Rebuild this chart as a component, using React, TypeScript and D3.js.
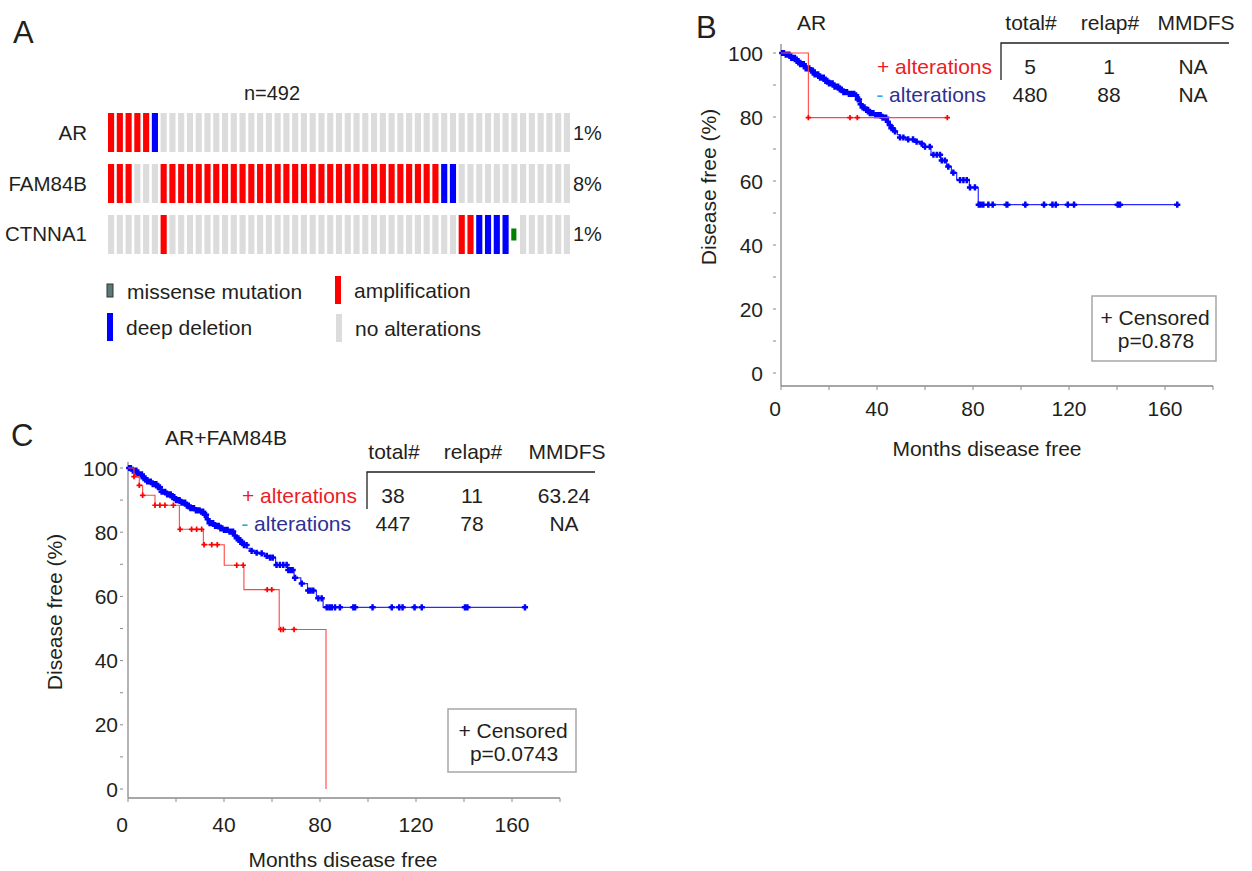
import React, { useEffect, useRef } from 'react';
import * as d3 from 'd3';

const FONT = 'Arial, "Liberation Sans", Helvetica, sans-serif';
const INK = '#231f20';

// ---- panel A: oncoprint ----
const genes = ['AR', 'FAM84B', 'CTNNA1'];
const genePct = ['1%', '8%', '1%'];
// A = amplification, D = deep deletion, M = missense mutation, N = no alteration
const arRow = 'AAAAAD' + 'NNNNNNNNNN' + 'NNNNNNNNNN' + 'NNNNNNNNNN' + 'NNNNNNNNNN' + 'NNNNNNN';
const fam84bRow = 'AAANNN' + 'AAAAAAAAAA' + 'AAAAAAAAAA' + 'AAAAAAAAAA' + 'AA' + 'DD' + 'NNNNNNNNNN' + 'NNN';
const ctnna1Row = 'NNNNNNA' + 'NNNNNNNNNN' + 'NNNNNNNNNN' + 'NNNNNNNNNN' + 'NNN' + 'AADDDDM' + 'NNNNNN';
const oncoRows = [arRow, fam84bRow, ctnna1Row];
const altColors: Record<string, string> = { A: '#ff0000', D: '#0000ff', M: '#008000', N: '#dcdcdc' };
const legendLabels = ['missense mutation', 'amplification', 'deep deletion', 'no alterations'];
const legendCodes = ['M', 'A', 'D', 'N'];

// ---- panel B: AR ----
const bPlusSteps = [[0, 100], [11.4, 79.8], [69.3, 79.8]];
const bPlusCensor = [11.4, 28.75, 31.8, 69.3];
const bMinusSteps = [
  [0, 100], [2, 99.5], [4, 98.5], [6, 97.5], [8, 96.5], [10, 95.2], [12, 94.5], [14, 93.3],
  [16, 92.3], [18, 91.3], [20, 90.5], [22, 89.5], [24, 88.6], [26, 87.8], [28, 87.2], [31, 86.8],
  [32, 85.5], [33, 84], [34, 83], [35, 82.2], [37, 81.2], [39, 80.6], [42, 79.8], [44, 78.5],
  [45, 77.5], [46, 76.5], [47, 75.5], [48.5, 74.5], [49.5, 73.6], [53, 73], [56, 72.3], [58, 71.7],
  [60, 70.7], [62.5, 68.2], [66.5, 66.4], [69, 64.5], [71, 62.6], [73.2, 60.3], [78.5, 58],
  [82.2, 52.6], [165.1, 52.6],
];
const bMinusCensor = [
  0.5, 1.2, 2, 2.8, 3.5, 4.3, 5, 5.8, 6.5, 7.3, 8, 8.8, 9.5, 10.3, 11, 11.8, 12.5, 13.3, 14, 14.8,
  15.5, 16.3, 17, 17.8, 18.5, 19.3, 20, 20.8, 21.5, 22.3, 23, 23.8, 24.5, 25.3, 26, 26.8, 27.5,
  28.3, 29, 29.8, 30.5, 31.3, 32, 32.5, 33.2, 34, 34.8, 35.5, 36.3, 37, 37.8, 38.5, 39.3, 40,
  40.8, 41.5, 42.3, 43, 43.8, 44.5, 45.3, 46, 46.5,
  47.5, 49.6, 51, 53, 55, 56.5, 58.6, 60, 62, 63.5, 64.9, 66.25, 67, 68.3, 69.7, 71.8, 74.6, 76,
  77.4, 78.75, 80.8,
  82.4, 83.2, 84.3, 86.4, 88.2, 94.0, 94.3, 101.8, 109.6, 113.1, 114.5, 119.5, 122.1, 140.3,
  141.25, 165.1,
];
const bTable = [['5', '1', 'NA'], ['480', '88', 'NA']];
const bPValue = 'p=0.878';

// ---- panel C: AR+FAM84B ----
const cPlusSteps = [
  [0, 100], [2.5, 97.3], [4.7, 94.6], [6.1, 91.5], [11.25, 88.4], [21.4, 80.9], [31.4, 76.1],
  [40.1, 69.7], [48.3, 62.1], [63, 49.7], [82.5, 0],
];
const cPlusCensor = [
  2.5, 4.7, 6.1, 11.25, 13.3, 15.4, 18.9, 21.7, 26.5, 28.6, 30.7, 31.7, 34.9, 37.2, 45.3, 48,
  58, 59.9, 63.6, 64.7, 69.2,
];
const cMinusSteps = [
  [0, 100], [2, 99.2], [4, 98], [6, 96.8], [8, 95.8], [10, 95], [12, 94], [14, 92.6], [16, 91.8],
  [18, 90.9], [20, 90], [22, 89.2], [24, 88.3], [26, 87.5], [28, 86.8], [30, 86.4], [32, 85.4],
  [33, 84], [34, 82.8], [36, 82], [38, 81.2], [40, 80.7], [42, 80.2], [44, 79], [45, 78.1],
  [46.5, 77], [48, 76], [49.5, 75], [50.8, 74.2], [53, 73.6], [55, 73.4], [57, 72.6], [59, 72.1],
  [61.5, 69.8], [66.5, 68.2], [69.2, 65.8], [72, 64], [74.8, 61.8], [78.5, 59.4], [81.3, 56.6],
  [165.4, 56.6],
];
const cMinusCensor = [
  0.5, 1.2, 2, 2.8, 3.5, 4.3, 5, 5.8, 6.5, 7.3, 8, 8.8, 9.5, 10.3, 11, 11.8, 12.5, 13.3, 14, 14.8,
  15.5, 16.3, 17, 17.8, 18.5, 19.3, 20, 20.8, 21.5, 22.3, 23, 23.8, 24.5, 25.3, 26, 26.8, 27.5,
  28.3, 29, 29.8, 30.5, 31.3, 32, 32.5, 33.2, 34, 34.8, 35.5, 36.3, 37, 37.8, 38.5, 39.3, 40,
  40.8, 41.5, 42.3, 43, 43.8, 44.5, 45.3, 46, 46.8, 47.5, 48.3,
  49.4, 51.5, 53.6, 55.7, 57.8, 59.2, 60.3, 61.9, 63.3, 64.7, 66.1, 66.8, 67.8, 68.6, 69.6, 72.4,
  75.1, 76.1, 77.2, 79.3, 80.7,
  82.8, 83.9, 84.9, 86.25, 88.3, 93.9, 94.6, 101.9, 109.9, 113, 114.4, 119.4, 122.4, 140.4,
  141.4, 165.4,
];
const cTable = [['38', '11', '63.24'], ['447', '78', 'NA']];
const cPValue = 'p=0.0743';

const tableHeads = ['total#', 'relap#', 'MMDFS'];
const yTicks = [0, 20, 40, 60, 80, 100];
const xTicks = [0, 40, 80, 120, 160];

type KM = {
  x0: number; y0: number; yTop: number; axisY: number; yAxisTop: number;
  title: string; titleX: number; titleY: number;
  plusSteps: number[][]; plusCensor: number[]; minusSteps: number[][]; minusCensor: number[];
  table: string[][]; tableX: number; tableY: number; colX: number[]; rowLabelX: number;
  pValue: string; box: [number, number, number, number];
  yLabelX: number; xLabelY: number; yTitleX: number; yTitleY: number; xTitleX: number; xTitleY: number;
};

function drawKM(svg: d3.Selection<SVGSVGElement, unknown, null, undefined>, k: KM) {
  const g = svg.append('g').attr('font-family', FONT).attr('fill', INK);
  const x = d3.scaleLinear().domain([0, 180]).range([k.x0, k.x0 + 180 * 2.4]);
  const y = d3.scaleLinear().domain([0, 100]).range([k.y0, k.yTop]);
  const axisCol = '#8a8a8a';
  const fs = 21;

  // axes
  g.append('line').attr('x1', k.x0).attr('x2', x(180)).attr('y1', k.axisY).attr('y2', k.axisY)
    .attr('stroke', axisCol).attr('stroke-width', 1.3);
  g.append('line').attr('x1', k.x0).attr('x2', k.x0).attr('y1', k.axisY).attr('y2', k.yAxisTop)
    .attr('stroke', axisCol).attr('stroke-width', 1.3);
  g.selectAll('.xt').data(d3.range(0, 181, 20)).join('line')
    .attr('x1', d => x(d)).attr('x2', d => x(d)).attr('y1', k.axisY).attr('y2', k.axisY + 4)
    .attr('stroke', axisCol).attr('stroke-width', 1);
  g.selectAll('.yt').data(d3.range(0, 101, 10)).join('line')
    .attr('x1', k.x0 - 8).attr('x2', k.x0 - 5).attr('y1', d => y(d)).attr('y2', d => y(d))
    .attr('stroke', axisCol).attr('stroke-width', 1);
  g.selectAll('.yl').data(yTicks).join('text')
    .attr('x', k.yLabelX).attr('y', d => y(d) + 7.5).attr('text-anchor', 'end')
    .attr('font-size', fs).text(d => d);
  g.selectAll('.xl').data(xTicks).join('text')
    .attr('x', d => x(d) - (d === 0 ? 6 : 0)).attr('y', k.xLabelY).attr('text-anchor', 'middle')
    .attr('font-size', fs).text(d => d);
  g.append('text').attr('transform', `translate(${k.yTitleX},${k.yTitleY}) rotate(-90)`)
    .attr('text-anchor', 'middle').attr('font-size', fs).text('Disease free (%)');
  g.append('text').attr('x', k.xTitleX).attr('y', k.xTitleY).attr('text-anchor', 'middle')
    .attr('font-size', fs).text('Months disease free');
  g.append('text').attr('x', k.titleX).attr('y', k.titleY).attr('font-size', fs).text(k.title);

  // curves
  const line = d3.line<number[]>().x(d => x(d[0])).y(d => y(d[1])).curve(d3.curveStepAfter);
  const bis = d3.bisector((d: number[]) => d[0]).right;
  const at = (steps: number[][], t: number) => steps[Math.max(0, bis(steps, t) - 1)][1];
  const plus = (cx: number, cy: number, h: number) => `M${cx - h},${cy}H${cx + h}M${cx},${cy - h}V${cy + h}`;

  g.append('path').attr('d', line(k.minusSteps)).attr('fill', 'none')
    .attr('stroke', '#2a2aff').attr('stroke-width', 1.2);
  g.append('path').attr('d', k.minusCensor.map(t => plus(x(t), y(at(k.minusSteps, t)), 3.1)).join(''))
    .attr('fill', 'none').attr('stroke', '#0000ff').attr('stroke-width', 2.5);
  g.append('path').attr('d', line(k.plusSteps)).attr('fill', 'none')
    .attr('stroke', '#ff4545').attr('stroke-width', 1.1);
  g.append('path').attr('d', k.plusCensor.map(t => plus(x(t), y(at(k.plusSteps, t)), 2.7)).join(''))
    .attr('fill', 'none').attr('stroke', '#ff0000').attr('stroke-width', 1.7);

  // table
  const tx = k.tableX;
  g.selectAll('.th').data(tableHeads).join('text')
    .attr('x', (_, i) => k.colX[i]).attr('y', k.tableY).attr('text-anchor', 'middle')
    .attr('font-size', fs).text(d => d);
  g.append('path').attr('d', `M${tx},${k.tableY + 50}V${k.tableY + 13}H${tx + 228}`)
    .attr('fill', 'none').attr('stroke', INK).attr('stroke-width', 1.3);
  k.table.forEach((row, r) => {
    g.selectAll(`.tr${r}`).data(row).join('text')
      .attr('x', (_, i) => k.colX[i] - (i === 2 ? 3 : 1)).attr('y', k.tableY + 43.5 + r * 28)
      .attr('text-anchor', 'middle').attr('font-size', fs).text(d => d);
  });
  g.append('text').attr('x', k.rowLabelX).attr('y', k.tableY + 43.5).attr('text-anchor', 'end')
    .attr('font-size', fs).attr('fill', '#ed1c24').text('+ alterations');
  const minus = g.append('text').attr('x', k.rowLabelX - 6).attr('y', k.tableY + 71.5)
    .attr('text-anchor', 'end').attr('font-size', fs);
  minus.append('tspan').attr('fill', '#29abe2').text('- ');
  minus.append('tspan').attr('fill', '#2e3192').text('alterations');

  // censored box
  const [bx, by, bw, bh] = k.box;
  g.append('rect').attr('x', bx).attr('y', by).attr('width', bw).attr('height', bh)
    .attr('fill', '#fff').attr('stroke', '#a6a6a6').attr('stroke-width', 1.5);
  g.append('text').attr('x', bx + bw / 2 + 1).attr('y', by + 28.5).attr('text-anchor', 'middle')
    .attr('font-size', fs).text('+ Censored');
  g.append('text').attr('x', bx + bw / 2 + 2).attr('y', by + 52).attr('text-anchor', 'middle')
    .attr('font-size', fs).text(k.pValue);
}

const App = () => {
  const svgRef = useRef<SVGSVGElement>(null);

  useEffect(() => {
    const svg = d3.select(svgRef.current!);
    svg.selectAll('*').remove();

    // panel letters
    const letters = svg.append('g').attr('font-family', FONT).attr('font-size', 31).attr('fill', INK);
    letters.append('text').attr('x', 13).attr('y', 43).text('A');
    letters.append('text').attr('x', 696).attr('y', 38).text('B');
    letters.append('text').attr('x', 11).attr('y', 446).text('C');

    // ---- panel A ----
    const a = svg.append('g').attr('font-family', FONT).attr('fill', INK);
    const nCols = oncoRows[0].length;
    const xCol = d3.scaleBand<number>().domain(d3.range(nCols)).range([108, 570]).paddingInner(0.3);
    const yRow = d3.scaleBand<string>().domain(genes).range([113, 254]).paddingInner(0.235);
    a.append('text').attr('x', 272).attr('y', 100).attr('text-anchor', 'middle')
      .attr('font-size', 20).text('n=492');
    genes.forEach((gname, r) => {
      const cells = oncoRows[r].split('');
      a.selectAll(`.c${r}`).data(cells).join('rect')
        .attr('x', (_, i) => xCol(i)!)
        .attr('y', d => (d === 'M' ? yRow(gname)! + yRow.bandwidth() / 2 - 6 : yRow(gname)!))
        .attr('width', d => (d === 'M' ? xCol.bandwidth() - 1 : xCol.bandwidth()))
        .attr('height', d => (d === 'M' ? 12 : yRow.bandwidth()))
        .attr('fill', d => altColors[d]);
      a.append('text').attr('x', 87).attr('y', yRow(gname)! + yRow.bandwidth() / 2 + 7)
        .attr('text-anchor', 'end').attr('font-size', 20.5).text(gname);
      a.append('text').attr('x', 573).attr('y', yRow(gname)! + yRow.bandwidth() / 2 + 7)
        .attr('font-size', 20).text(genePct[r]);
    });
    // legend
    const lx = [107, 335, 107, 336];
    const ly = [291, 290, 327, 328];
    legendCodes.forEach((c, i) => {
      if (c === 'M') {
        a.append('rect').attr('x', lx[i]).attr('y', ly[i] - 7).attr('width', 6).attr('height', 13)
          .attr('fill', '#5a7a78').attr('stroke', '#333').attr('stroke-width', 1);
      } else {
        a.append('rect').attr('x', lx[i]).attr('y', ly[i] - 14).attr('width', 6).attr('height', 28)
          .attr('fill', altColors[c]);
      }
      a.append('text').attr('x', lx[i] + (i === 0 ? 20 : 19)).attr('y', ly[i] + 7.5)
        .attr('font-size', 21).text(legendLabels[i]);
    });

    drawKM(svg, {
      x0: 781, y0: 373, yTop: 53, axisY: 386, yAxisTop: 44,
      title: 'AR', titleX: 797, titleY: 29.5,
      plusSteps: bPlusSteps, plusCensor: bPlusCensor, minusSteps: bMinusSteps, minusCensor: bMinusCensor,
      table: bTable, tableX: 1001, tableY: 30, colX: [1031, 1110, 1196], rowLabelX: 992,
      pValue: bPValue, box: [1092, 296, 124, 65],
      yLabelX: 763, xLabelY: 416, yTitleX: 716, yTitleY: 187, xTitleX: 987, xTitleY: 455.5,
    });
    drawKM(svg, {
      x0: 128, y0: 789, yTop: 468, axisY: 798, yAxisTop: 462,
      title: 'AR+FAM84B', titleX: 165, titleY: 444.5,
      plusSteps: cPlusSteps, plusCensor: cPlusCensor, minusSteps: cMinusSteps, minusCensor: cMinusCensor,
      table: cTable, tableX: 367, tableY: 459, colX: [394, 473, 567], rowLabelX: 357,
      pValue: cPValue, box: [448, 709, 128, 63],
      yLabelX: 118, xLabelY: 832, yTitleX: 62, yTitleY: 612, xTitleX: 343, xTitleY: 867,
    });
  }, []);

  return (
    <svg ref={svgRef} width={1252} height={871}
      style={{ position: 'absolute', left: 0, top: 0, background: '#fff' }} />
  );
};

export default App;
